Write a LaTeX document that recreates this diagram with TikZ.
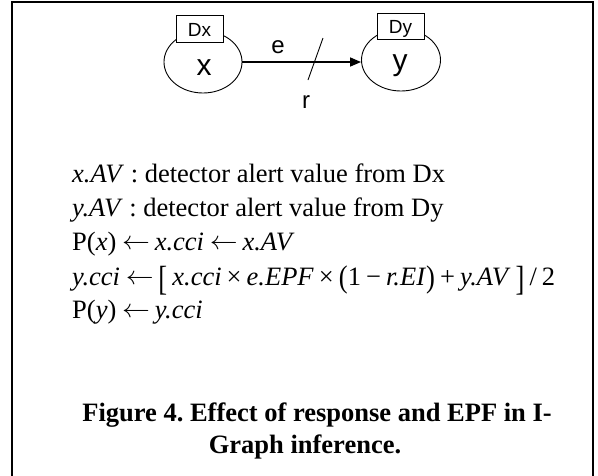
\documentclass[tikz,border=0pt]{standalone}
\usepackage{fontspec}
\setmainfont{Liberation Serif}
\newfontfamily\arial{Liberation Sans}
\usetikzlibrary{arrows.meta,shapes.geometric}
\frenchspacing
\newcommand{\mi}[1]{\textit{#1}}
\newcommand{\arr}{\raisebox{0.02em}{\scalebox{1.12}[1.05]{$\leftarrow$}}}
\newcommand{\lar}{\hspace{0.22em}\arr\hspace{0.18em}}
\newcommand{\gl}{\hskip 0pt plus 1fil\relax}
\newcommand{\bigbr}[1]{\raisebox{-0.2em}{\scalebox{1}[1.32]{#1}}}
\newcommand{\midbr}[1]{\raisebox{-0.1em}{\scalebox{1}[1.18]{#1}}}
\begin{document}
\begin{tikzpicture}[x=1pt,y=-1pt,
  ell/.style={draw,ellipse,line width=0.9pt,inner sep=0pt},
  detbox/.style={draw,fill=white,rectangle,line width=0.9pt,inner sep=0pt},
  sanslbl/.style={font=\arial,inner sep=0pt,anchor=base},
  body/.style={font=\fontsize{26.5}{30}\selectfont,inner sep=0pt,anchor=base west},
  captext/.style={font=\fontsize{26.5}{30}\selectfont\bfseries,inner sep=0pt,anchor=base}]
\useasboundingbox (0,0) rectangle (598,475);
\draw[line width=2pt] (12,2) -- (593,2);
\draw[line width=2pt] (12,1) -- (12,480);
\draw[line width=2pt] (593,1) -- (593,480);
% graph
\node[ell,minimum width=78pt,minimum height=62pt] (nx) at (203,62) {};
\node[ell,minimum width=79pt,minimum height=62pt] (ny) at (401,60) {};
\node[detbox,minimum width=47pt,minimum height=27pt] (dx) at (199.5,28.5) {};
\node[detbox,minimum width=47pt,minimum height=26pt] (dy) at (400.5,26) {};
\node[sanslbl,font=\arial\fontsize{19}{22}\selectfont] (dxt) at (199.5,36) {Dx};
\node[sanslbl,font=\arial\fontsize{19}{22}\selectfont] (dyt) at (400.5,33) {Dy};
\node[sanslbl,font=\arial\fontsize{30}{32}\selectfont] (xt) at (204,75) {x};
\node[sanslbl,font=\arial\fontsize{30}{32}\selectfont] (yt) at (400,70) {y};
\draw[line width=1.5pt,-{Triangle[length=11pt,width=9pt]}] (nx.east) -- (nx.east -| ny.west);
\node[sanslbl,font=\arial\fontsize{24}{28}\selectfont] (el) at (278,53) {e};
\node[sanslbl,font=\arial\fontsize{24}{28}\selectfont] (rl) at (306,108) {r};
\coordinate (s1) at (323,38);
\coordinate (s2) at (308,80);
\draw[line width=0.9pt] (s1) -- (s2);
% formulas
\node[body] (l1) at (72,182) {\mi{x.AV} : detector alert value from Dx};
\node[body] (l2) at (72,216) {\mi{y.AV} : detector alert value from Dy};
\node[body] (l3) at (72,250) {P(\mi{x})\lar\mi{x.cci}\lar\mi{x.AV}};
\node[body] (l4) at (72,285) {\hbox to 483pt{\mi{y.cci}\lar\bigbr{[}\gl\mi{x.cci}\gl×\gl\mi{e.EPF}\gl×\gl\midbr{(}1\gl−\gl\mi{r.EI}\midbr{)}\gl+\gl\mi{y.AV}\gl\bigbr{]}\gl/\gl 2}};
\node[body] (l5) at (72,318) {P(\mi{y})\lar\mi{y.cci}};
\node[captext] (c1) at (317,421) {Figure 4. Effect of response and EPF in I-};
\node[captext] (c2) at (305,453) {Graph inference.};
\end{tikzpicture}
\end{document}
